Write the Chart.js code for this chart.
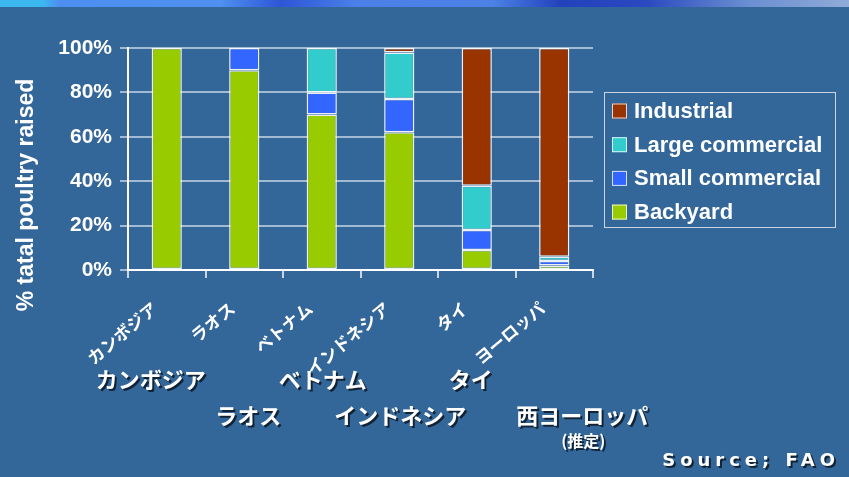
<!DOCTYPE html>
<html>
<head>
<meta charset="utf-8">
<script src="https://cdn.jsdelivr.net/npm/chart.js@4"></script>
<style>
  body { margin: 0; background: #336699; }
  #wrap { position: relative; width: 849px; height: 477px; }
  #band {
    position: absolute; left: 0; top: 0; width: 849px; height: 7px;
    background: linear-gradient(90deg, #3cb8f0 0%, #3cb8f0 5%, #4d8ff0 7%, #4f90f0 26%, #2d56d6 33%, #4b80e8 42%, #4c82e6 58%, #2242bc 66%, #2a48c0 76%, #6a8ed2 88%, #8fabd8 100%);
  }
</style>
</head>
<body>
<div id="wrap">
  <canvas id="poultryChart" width="849" height="477"></canvas>
  <div id="band"></div>
</div>
<script>
// valores (% de aves criadas)
const countries = ['カンボジア', 'ラオス', 'ベトナム', 'インドネシア', 'タイ', 'ヨーロッパ'];
const captions = ['カンボジア', 'ラオス', 'ベトナム', 'インドネシア', 'タイ', '西ヨーロッパ'];
const backyard = [100, 90, 70, 62, 9, 2];
const smallCommercial = [0, 10, 10, 15, 9, 2];
const largeCommercial = [0, 0, 20, 21, 20, 2];
const industrial = [0, 0, 0, 2, 62, 94];
const yTitle = '% tatal poultry raised';
const sourceNote = 'Source; FAO';
const estimateNote = '(推定)';

// desplazamiento de los textos horizontales bajo el eje
const captionShift = [-16, 4, 1, 1, -6, 28];
const captionRow = [380, 416, 380, 416, 380, 416];

const latin = '"Liberation Sans", Arial, sans-serif';
const cjk = '"Noto Sans CJK JP", sans-serif';

function series(label, data, color) {
    return {
        label: label,
        data: data,
        backgroundColor: color,
        borderColor: 'rgba(255,255,255,0.9)',
        borderWidth: ctx => (ctx.raw ? 1.5 : 0),
        borderSkipped: false,
        barPercentage: 0.39,
        categoryPercentage: 1
    };
}

// leyenda con marco, a la derecha del area del grafico
const boxedLegend = {
    id: 'boxedLegend',
    afterDraw(chart) {
        const ctx = chart.ctx;
        const area = chart.chartArea;
        const left = area.right + 11;
        const top = 92;
        const items = chart.data.datasets.slice().reverse();
        ctx.save();
        ctx.strokeStyle = '#c9d5e2';
        ctx.lineWidth = 1;
        ctx.strokeRect(left + 0.5, top + 0.5, 231, 135);
        ctx.font = 'bold 22px ' + latin;
        ctx.textBaseline = 'middle';
        items.forEach((ds, i) => {
            const cy = top + 19 + i * 33.7;
            ctx.fillStyle = ds.backgroundColor;
            ctx.fillRect(left + 8, cy - 7.5, 15, 15);
            ctx.strokeStyle = 'rgba(255,255,255,0.8)';
            ctx.strokeRect(left + 8.5, cy - 7, 14, 14);
            ctx.fillStyle = '#ffffff';
            ctx.fillText(ds.label, left + 30, cy + 1);
        });
        ctx.restore();
    }
};

const overlayText = {
    id: 'overlayText',
    afterDraw(chart) {
        const ctx = chart.ctx;
        const xScale = chart.scales.x;

        // titulo del eje Y
        ctx.save();
        ctx.fillStyle = '#ffffff';
        ctx.font = 'bold 23px ' + latin;
        ctx.textAlign = 'center';
        ctx.textBaseline = 'middle';
        ctx.translate(27, 195);
        ctx.rotate(-Math.PI / 2);
        ctx.fillText(yTitle, 0, 0);
        ctx.restore();

        // nombres horizontales con sombra
        ctx.save();
        ctx.fillStyle = '#ffffff';
        ctx.shadowColor = 'rgba(0,0,0,0.65)';
        ctx.shadowOffsetX = 2;
        ctx.shadowOffsetY = 2;
        ctx.shadowBlur = 0;
        ctx.textAlign = 'center';
        ctx.textBaseline = 'middle';
        ctx.font = 'bold 22px ' + cjk;
        captions.forEach((c, i) => {
            const px = xScale.getPixelForValue(i) + captionShift[i];
            ctx.fillText(c, px, captionRow[i]);
        });
        ctx.font = 'bold 16px ' + cjk;
        ctx.fillText(estimateNote, xScale.getPixelForValue(5) + captionShift[5] + 1, 441);

        ctx.font = 'bold 18px "DejaVu Sans", sans-serif';
        ctx.letterSpacing = '5px';
        ctx.textAlign = 'right';
        ctx.fillText(sourceNote, 840, 461);
        ctx.restore();
    }
};

new Chart(document.getElementById('poultryChart'), {
    type: 'bar',
    data: {
        labels: countries,
        datasets: [
            series('Backyard', backyard, '#99cc00'),
            series('Small commercial', smallCommercial, '#3366ff'),
            series('Large commercial', largeCommercial, '#33cccc'),
            series('Industrial', industrial, '#993300')
        ]
    },
    options: {
        responsive: false,
        animation: false,
        layout: {
            padding: { top: 48, right: 256, bottom: 0, left: 0 }
        },
        plugins: {
            legend: { display: false },
            tooltip: { enabled: false }
        },
        scales: {
            x: {
                stacked: true,
                afterFit: scale => { scale.height = 207; },
                border: { color: '#ffffff', width: 2 },
                grid: {
                    offset: true,
                    color: ctx => (ctx.index === countries.length ? '#c9d5e2' : 'rgba(0,0,0,0)'),
                    lineWidth: 2,
                    tickColor: '#c9d5e2',
                    tickLength: 8
                },
                ticks: {
                    color: '#ffffff',
                    font: { family: cjk, size: 17, weight: 'bold' },
                    minRotation: 40,
                    maxRotation: 40,
                    autoSkip: false,
                    padding: 20,
                    labelOffset: -12
                }
            },
            y: {
                stacked: true,
                min: 0,
                max: 100,
                afterFit: scale => { scale.width = 128; },
                border: { color: '#ffffff', width: 2 },
                grid: {
                    color: 'rgba(200,215,230,0.75)',
                    lineWidth: 2,
                    tickColor: 'rgba(200,215,230,0.75)',
                    tickLength: 8
                },
                ticks: {
                    stepSize: 20,
                    color: '#ffffff',
                    font: { family: latin, size: 21, weight: 'bold' },
                    padding: 8,
                    callback: v => v + '%'
                }
            }
        }
    },
    plugins: [boxedLegend, overlayText]
});
</script>
</body>
</html>
